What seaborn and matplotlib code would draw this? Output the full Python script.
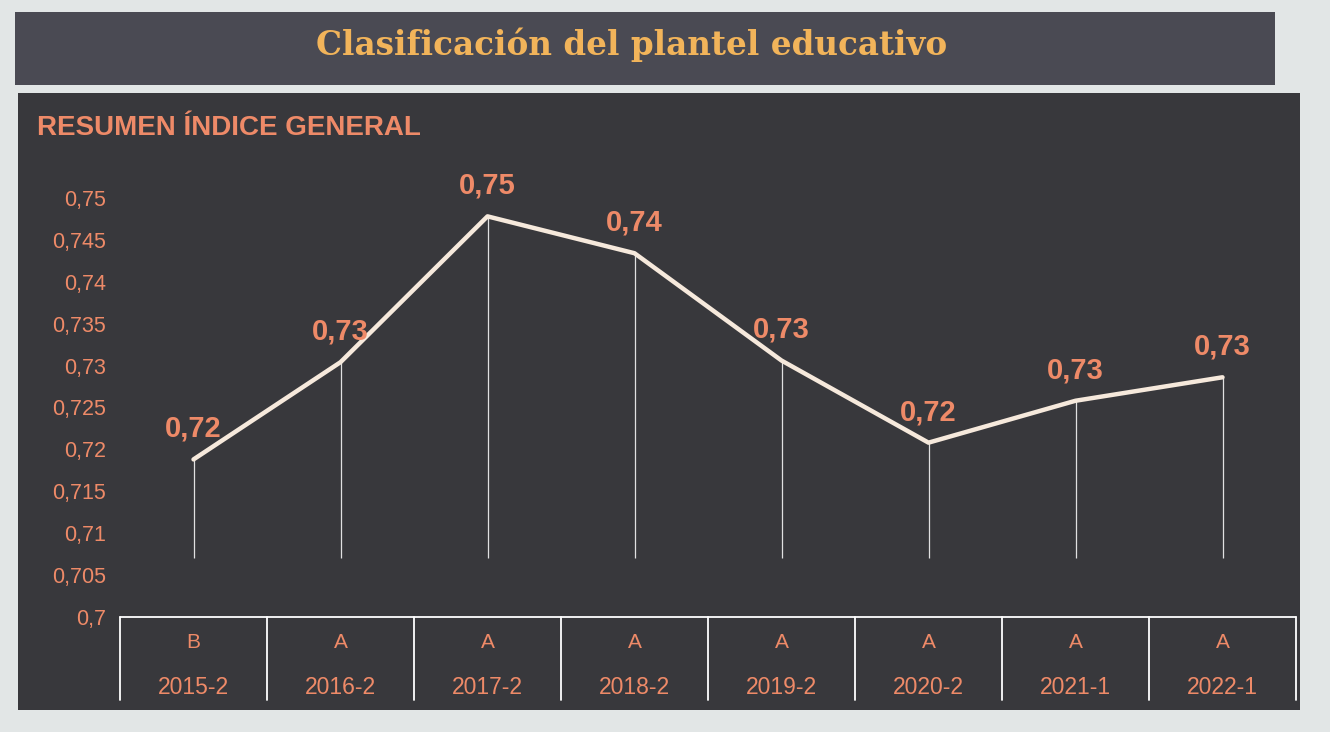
import numpy as np
import pandas as pd
import seaborn as sns
import matplotlib.pyplot as plt
from matplotlib.patches import Rectangle
from matplotlib.ticker import FuncFormatter
import matplotlib.transforms as mtransforms

# --- Data ---
periods = ["2015-2", "2016-2", "2017-2", "2018-2", "2019-2", "2020-2", "2021-1", "2022-1"]
grades = ["B", "A", "A", "A", "A", "A", "A", "A"]
index_values = [0.7188, 0.7304, 0.7478, 0.7434, 0.7306, 0.7208, 0.7258, 0.7286]
value_labels = ["0,72", "0,73", "0,75", "0,74", "0,73", "0,72", "0,73", "0,73"]
y_ticks = [0.7, 0.705, 0.71, 0.715, 0.72, 0.725, 0.73, 0.735, 0.74, 0.745, 0.75]

df = pd.DataFrame({"period": periods, "grade": grades, "value": index_values})
df["pos"] = range(len(df))

# --- Colours ---
paper = "#e2e6e6"
banner = "#4a4a53"
panel = "#38383c"
gold = "#f2b45a"
salmon = "#ee8a68"
cream = "#f6e9dc"

sns.set_theme(style="dark")
plt.rcParams["font.family"] = ["Liberation Sans", "DejaVu Sans"]

fig = plt.figure(figsize=(13.3, 7.32), dpi=100)
fig.patch.set_facecolor(paper)

# title banner and chart panel (behind the axes)
for (x0, y0, w, h, c) in [(15, 12, 1260, 73, banner), (18, 93, 1282, 617, panel)]:
    fig.add_artist(Rectangle((x0 / 1330, 1 - (y0 + h) / 732), w / 1330, h / 732,
                             transform=fig.transFigure, facecolor=c,
                             edgecolor="none", linewidth=0, zorder=-5))
fig.text(0.475, 1 - 45 / 732, "Clasificación del plantel educativo",
         family="DejaVu Serif", fontweight="bold", fontsize=23.5, color=gold,
         ha="center", va="center")
fig.text(37 / 1330, 1 - 128 / 732, "RESUMEN ÍNDICE GENERAL", fontweight="bold",
         fontsize=20, color=salmon, ha="left", va="center")

ax = fig.add_axes([120 / 1330, 1 - 617 / 732, 1176 / 1330, 461 / 732])
ax.set_facecolor("none")
ax.set_zorder(2)

# drop lines
ax.vlines(df["pos"], 0.707, df["value"], color="white", linewidth=0.9, alpha=0.85)

sns.lineplot(data=df, x="pos", y="value", color=cream, linewidth=3.2,
             sort=False, ax=ax, zorder=3)

for p, v, lab in zip(df["pos"], df["value"], value_labels):
    ax.annotate(lab, (p, v), xytext=(0, 22), textcoords="offset points",
                ha="center", va="center", fontsize=21, fontweight="bold",
                color=salmon, zorder=4)

ax.set_xlim(-0.5, len(periods) - 0.5)
ax.set_ylim(0.7, 0.755)
ax.set_yticks(y_ticks)
ax.yaxis.set_major_formatter(FuncFormatter(lambda v, _: f"{v:g}".replace(".", ",")))
ax.tick_params(axis="y", length=0, pad=10, labelsize=15.5, labelcolor=salmon)
ax.set_xticks([])
ax.set_xlabel("")
ax.set_ylabel("")
ax.grid(False)
for s in ax.spines.values():
    s.set_visible(False)

# category table under the axis
trans = mtransforms.blended_transform_factory(ax.transData, ax.transAxes)
ax.plot([-0.5, len(periods) - 0.5], [0, 0], transform=trans, color="white",
        linewidth=1.3, clip_on=False)
for i in range(len(periods) + 1):
    ax.plot([i - 0.5, i - 0.5], [0, -0.18], transform=trans, color="white",
            linewidth=1.3, clip_on=False)
for p, g, per in zip(df["pos"], df["grade"], df["period"]):
    ax.text(p, -0.056, g, transform=trans, ha="center", va="center",
            fontsize=15, color=salmon)
    ax.text(p, -0.152, per, transform=trans, ha="center", va="center",
            fontsize=16.5, color=salmon)

fig.savefig("out.png", dpi=100, facecolor=fig.get_facecolor())
